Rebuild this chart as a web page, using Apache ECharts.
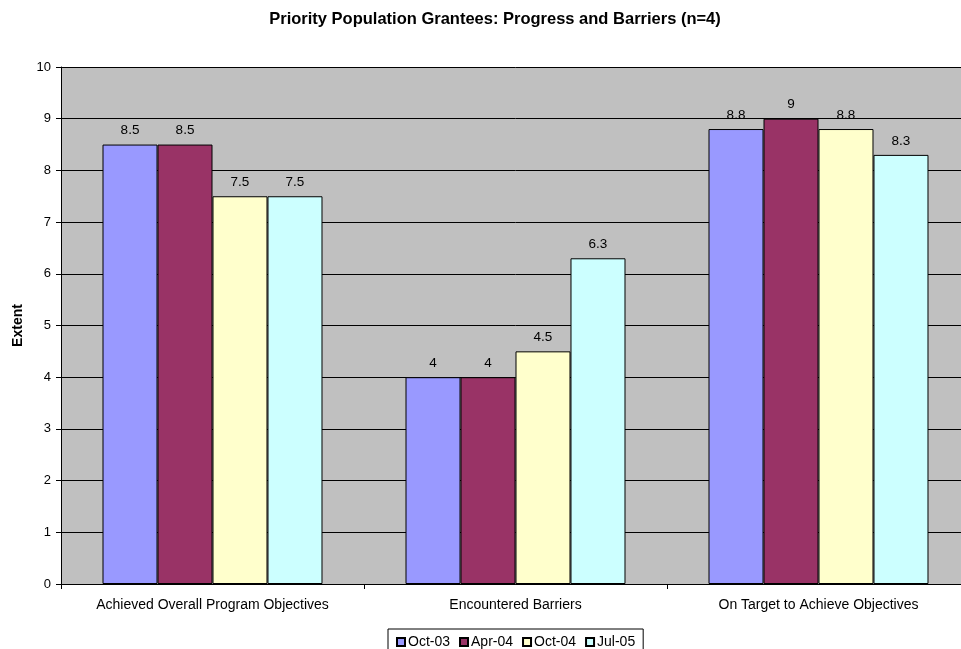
<!DOCTYPE html>
<html>
<head>
<meta charset="utf-8">
<script src="https://cdn.jsdelivr.net/npm/echarts@6/dist/echarts.min.js"></script>
<style>
  html, body { margin: 0; padding: 0; background: #ffffff; overflow: hidden; }
  #wrap { width: 961px; height: 649px; overflow: hidden; }
  #chart { width: 970px; height: 649px; }
</style>
</head>
<body>
<div id="wrap"><div id="chart"></div></div>
<script>
// Survey categories and period series
const categories = [
  'Achieved Overall Program Objectives',
  'Encountered Barriers',
  'On Target to Achieve Objectives'
];
const periods = ['Oct-03', 'Apr-04', 'Oct-04', 'Jul-05'];
const oct03 = [8.5, 4, 8.8];
const apr04 = [8.5, 4, 9];
const oct04 = [7.5, 4.5, 8.8];
const jul05 = [7.5, 6.3, 8.3];
const yTicks = [0, 1, 2, 3, 4, 5, 6, 7, 8, 9, 10];

const seriesValues = [oct03, apr04, oct04, jul05];
const colors = ['#9999FF', '#993366', '#FFFFCC', '#CCFFFF'];
const font = 'Arial, "Liberation Sans", sans-serif';

const chart = echarts.init(document.getElementById('chart'), null, { renderer: 'canvas' });

chart.setOption({
  animation: false,
  backgroundColor: '#ffffff',
  title: {
    text: 'Priority Population Grantees: Progress and Barriers (n=4)',
    left: 490,
    textAlign: 'center',
    top: 6,
    textStyle: { fontFamily: font, fontSize: 16.5, fontWeight: 'bold', color: '#000' }
  },
  legend: {
    data: periods,
    left: 388,
    top: 629,
    icon: 'rect',
    itemWidth: 8,
    itemHeight: 8,
    itemGap: 9,
    padding: [6, 8, 6, 8],
    borderColor: '#000',
    borderWidth: 1,
    borderRadius: 0,
    textStyle: { fontFamily: font, fontSize: 14, color: '#000', padding: [0, 0, 0, -2] }
  },
  grid: {
    left: 61,
    top: 67,
    right: 0,
    height: 517,
    show: true,
    backgroundColor: '#C0C0C0',
    borderWidth: 0
  },
  xAxis: {
    type: 'category',
    data: categories,
    axisLine: { lineStyle: { color: '#000', width: 1 } },
    axisTick: { show: true, length: 5, interval: 0, lineStyle: { color: '#000' } },
    axisLabel: { fontFamily: font, fontSize: 14, color: '#000', margin: 14, interval: 0 }
  },
  yAxis: {
    type: 'value',
    min: yTicks[0],
    max: yTicks[yTicks.length - 1],
    interval: 1,
    name: 'Extent',
    nameLocation: 'middle',
    nameGap: 35,
    nameTextStyle: { fontFamily: font, fontSize: 14, fontWeight: 'bold', color: '#000' },
    axisLine: { show: true, lineStyle: { color: '#000', width: 1 } },
    axisTick: { show: true, length: 5, lineStyle: { color: '#000' } },
    axisLabel: { fontFamily: font, fontSize: 13, color: '#000', margin: 10 },
    splitLine: { show: true, lineStyle: { color: '#000', width: 1 } }
  },
  series: periods.map((name, i) => ({
    name: name,
    type: 'bar',
    data: seriesValues[i],
    barGap: '0%',
    barCategoryGap: '27.4%',
    itemStyle: { color: colors[i], borderColor: '#000', borderWidth: 1 },
    label: {
      show: true,
      position: 'top',
      distance: 7,
      fontFamily: font,
      fontSize: 13.5,
      color: '#000'
    }
  }))
});
</script>
</body>
</html>
